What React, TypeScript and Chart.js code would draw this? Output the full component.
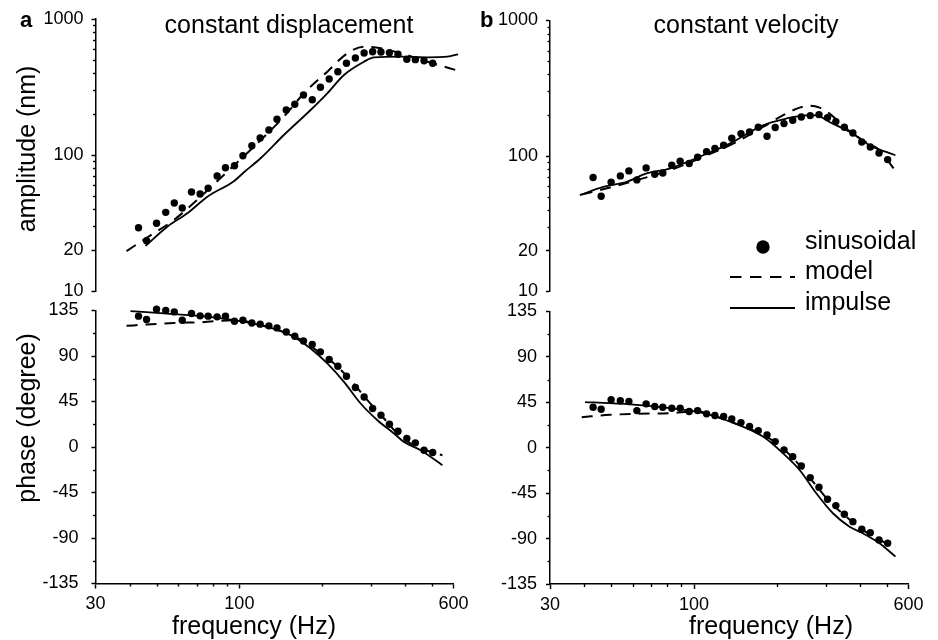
import React, { useEffect, useRef } from 'react';
import { Chart, registerables } from 'chart.js';

Chart.register(...registerables);

const FONT = '"Liberation Sans", Arial, Helvetica, sans-serif';
const W = 938;
const H = 640;

// ---------- data ----------
// sinusoidal stimulus frequencies (Hz)
const sinFreq = [43, 46, 50, 54, 58, 62, 67, 72, 77, 83, 89, 96, 103, 111, 119, 128, 137, 148, 159, 171, 184, 197, 212, 228, 245, 264, 284, 305, 327, 351, 377, 406, 436, 469, 504];

// (a) constant displacement – amplitude (nm)
const dispAmpSin = [29.4, 23.6, 31.7, 38.1, 44.6, 41.0, 53.7, 51.9, 57.2, 70.4, 81.0, 83.8, 99.2, 117.5, 133.8, 153.2, 183.6, 214.9, 236.5, 276.8, 255.7, 315.3, 362.7, 410.4, 473.0, 517.2, 563.1, 575.4, 572.5, 565.8, 550.7, 506.0, 503.0, 494.2, 473.0];
const dispAmpModelF = [38.9, 46.3, 57.8, 72.3, 90.4, 112.9, 145.1, 171.6, 208.7, 246.8, 283.6, 326.2, 385.8, 482.4, 623.2];
const dispAmpModelV = [19.8, 25.0, 33.5, 49.6, 75.8, 115.6, 191.8, 284.9, 410.4, 560.2, 626.0, 609.5, 560.2, 486.0, 417.5];
const dispAmpImpF = [45.6, 54.7, 64.7, 76.5, 95.5, 103.9, 119.4, 145.1, 181.5, 208.7, 239.9, 283.6, 308.4, 385.8, 482.4, 570.3, 623.2];
const dispAmpImpV = [21.6, 29.9, 37.5, 49.6, 64.5, 75.0, 95.0, 140.8, 214.9, 284.9, 388.2, 486.0, 523.4, 528.8, 523.4, 528.8, 550.7];

// (a) constant displacement – phase (degree)
const dispPhSin = [129.4, 126.1, 136.3, 135.0, 133.6, 125.4, 132.0, 129.7, 129.4, 128.7, 129.4, 124.4, 125.4, 122.7, 121.5, 119.8, 117.8, 113.8, 109.6, 104.9, 101.4, 94.1, 86.5, 79.9, 70.0, 58.8, 49.5, 38.1, 31.5, 22.5, 15.6, 8.4, 4.1, -3.2, -5.4];
const dispPhModelF = [38.9, 46.3, 57.8, 72.3, 95.5, 126.3, 167.0, 197.3, 220.7, 253.8, 291.8, 335.4, 385.8, 443.8, 509.8, 546.9];
const dispPhModelV = [119.8, 121.2, 122.7, 123.4, 125.4, 118.8, 106.3, 92.5, 82.6, 66.1, 46.3, 28.2, 10.0, 0.1, -5.8, -8.1];
const dispPhImpF = [40.2, 54.7, 72.3, 95.5, 126.3, 153.5, 181.5, 208.7, 239.9, 275.9, 317.4, 364.6, 396.5, 456.0, 546.9];
const dispPhImpV = [134.3, 132.0, 129.4, 125.4, 118.8, 110.6, 97.4, 82.6, 64.4, 43.0, 26.5, 13.4, 5.0, -3.2, -18.0];

// (b) constant velocity – amplitude (nm)
const velAmpSin = [69.4, 50.5, 64.1, 71.3, 77.6, 66.6, 81.7, 73.4, 75.0, 85.5, 91.5, 88.0, 97.9, 107.8, 113.5, 120.0, 135.1, 146.3, 150.4, 162.9, 139.8, 162.1, 173.4, 183.4, 194.0, 198.6, 202.0, 192.0, 179.4, 162.9, 147.9, 126.9, 116.6, 105.3, 94.1];
const velAmpModelF = [39.1, 49.5, 61.8, 81.6, 107.8, 142.4, 177.8, 210.1, 241.5, 262.5, 285.4, 310.1, 356.7, 409.4, 470.9, 537.9];
const velAmpModelV = [52.0, 58.6, 66.3, 78.5, 98.4, 126.9, 163.7, 199.6, 227.5, 235.3, 227.5, 205.5, 159.3, 130.6, 110.3, 77.6];
const velAmpImpF = [38.5, 46.8, 56.9, 67.2, 81.6, 107.8, 134.7, 177.8, 216.1, 255.4, 277.6, 310.1, 376.9, 432.9, 498.0, 537.9];
const velAmpImpV = [51.4, 59.2, 64.4, 74.3, 80.8, 101.3, 123.5, 168.5, 188.8, 199.6, 199.6, 178.2, 146.3, 120.0, 107.1, 101.3];

// (b) constant velocity – phase (degree)
const velPhSin = [40.2, 38.2, 47.5, 46.5, 45.8, 36.8, 43.5, 40.8, 40.2, 39.2, 39.2, 35.9, 36.8, 33.6, 31.9, 30.9, 28.6, 24.9, 21.0, 17.0, 12.8, 6.1, -2.1, -8.8, -18.0, -29.6, -39.1, -51.0, -57.3, -65.9, -73.2, -80.7, -84.1, -91.3, -94.6];
const velPhModelF = [39.1, 49.5, 61.8, 81.6, 102.0, 134.7, 168.3, 198.9, 234.9, 269.8, 310.1, 356.7, 409.4, 470.9, 537.9];
const velPhModelV = [30.3, 32.6, 33.6, 34.3, 35.9, 26.0, 16.0, 4.5, -13.7, -33.5, -53.4, -68.3, -81.4, -91.4, -98.0];
const velPhImpF = [40.2, 49.5, 61.8, 81.6, 107.8, 134.7, 177.8, 210.1, 241.5, 277.6, 319.0, 366.6, 409.4, 470.9, 537.9];
const velPhImpV = [45.2, 44.2, 42.5, 39.2, 34.3, 26.0, 11.1, -5.4, -22.0, -45.1, -64.9, -78.2, -84.7, -94.6, -107.9];

// ---------- ticks ----------
const ampMajor = [10, 20, 100, 1000];
const ampMinor = [30, 40, 50, 60, 70, 80, 90, 200, 300, 400, 500, 600, 700, 800, 900];
const phaseMajor = [-135, -90, -45, 0, 45, 90, 135];
const phaseMinor = [-112.5, -67.5, -22.5, 22.5, 67.5, 112.5];
const freqMajor = [30, 100, 600];
const freqMinor = [40, 50, 60, 70, 80, 90, 200, 300, 400, 500];

const legendLabels = ['sinusoidal', 'model', 'impulse'];

type Pt = { x: number; y: number };
const zip = (xs: number[], ys: number[]): Pt[] => xs.map((x, i) => ({ x, y: ys[i] }));

interface TextItem {
  text: string;
  x: number;
  y: number;
  font: string;
  align: CanvasTextAlign;
  baseline: CanvasTextBaseline;
  rotate?: number;
}

interface PanelSpec {
  kind: 'amp' | 'phase';
  area: { left: number; right: number; top: number; bottom: number };
  labelPad: number;
  sin: Pt[];
  model: Pt[];
  imp: Pt[];
  texts: TextItem[];
  legend?: boolean;
}

const TITLE_FONT = `25px ${FONT}`;
const LETTER_FONT = `bold 22px ${FONT}`;

const panels: PanelSpec[] = [
  {
    kind: 'amp',
    area: { left: 95.5, right: 453.5, top: 19, bottom: 291.5 },
    labelPad: 8,
    sin: zip(sinFreq, dispAmpSin),
    model: zip(dispAmpModelF, dispAmpModelV),
    imp: zip(dispAmpImpF, dispAmpImpV),
    texts: [
      { text: 'a', x: 20, y: 27, font: LETTER_FONT, align: 'left', baseline: 'alphabetic' },
      { text: 'constant displacement', x: 289, y: 33, font: TITLE_FONT, align: 'center', baseline: 'alphabetic' },
      { text: 'amplitude (nm)', x: 28, y: 149, font: TITLE_FONT, align: 'center', baseline: 'middle', rotate: -Math.PI / 2 },
    ],
  },
  {
    kind: 'phase',
    area: { left: 95.5, right: 453.5, top: 310.5, bottom: 583.5 },
    labelPad: 13,
    sin: zip(sinFreq, dispPhSin),
    model: zip(dispPhModelF, dispPhModelV),
    imp: zip(dispPhImpF, dispPhImpV),
    texts: [
      { text: 'phase (degree)', x: 28, y: 418, font: TITLE_FONT, align: 'center', baseline: 'middle', rotate: -Math.PI / 2 },
      { text: 'frequency (Hz)', x: 254, y: 634, font: TITLE_FONT, align: 'center', baseline: 'alphabetic' },
    ],
  },
  {
    kind: 'amp',
    area: { left: 550, right: 908.5, top: 20.5, bottom: 291.5 },
    labelPad: 8,
    sin: zip(sinFreq, velAmpSin),
    model: zip(velAmpModelF, velAmpModelV),
    imp: zip(velAmpImpF, velAmpImpV),
    texts: [
      { text: 'b', x: 480, y: 27, font: LETTER_FONT, align: 'left', baseline: 'alphabetic' },
      { text: 'constant velocity', x: 746, y: 33, font: TITLE_FONT, align: 'center', baseline: 'alphabetic' },
    ],
    legend: true,
  },
  {
    kind: 'phase',
    area: { left: 550, right: 908.5, top: 311.5, bottom: 584 },
    labelPad: 9,
    sin: zip(sinFreq, velPhSin),
    model: zip(velPhModelF, velPhModelV),
    imp: zip(velPhImpF, velPhImpV),
    texts: [
      { text: 'frequency (Hz)', x: 771, y: 634, font: TITLE_FONT, align: 'center', baseline: 'alphabetic' },
    ],
  },
];

function drawLegend(ctx: CanvasRenderingContext2D) {
  ctx.save();
  ctx.fillStyle = '#000';
  ctx.strokeStyle = '#000';
  ctx.font = TITLE_FONT;
  ctx.textAlign = 'left';
  ctx.textBaseline = 'alphabetic';
  // sinusoidal marker
  ctx.beginPath();
  ctx.arc(763, 247, 6.7, 0, Math.PI * 2);
  ctx.fill();
  ctx.fillText(legendLabels[0], 805, 249);
  // model (dashed)
  ctx.lineWidth = 2;
  ctx.setLineDash([11.5, 8.5]);
  ctx.beginPath();
  ctx.moveTo(730, 277);
  ctx.lineTo(795, 277);
  ctx.stroke();
  ctx.fillText(legendLabels[1], 805, 279);
  // impulse (solid)
  ctx.setLineDash([]);
  ctx.beginPath();
  ctx.moveTo(730, 308);
  ctx.lineTo(795, 308);
  ctx.stroke();
  ctx.fillText(legendLabels[2], 805, 310);
  ctx.restore();
}

function makeDecor(spec: PanelSpec) {
  return {
    id: 'decor',
    afterDraw(chart: any) {
      const ctx = chart.ctx as CanvasRenderingContext2D;
      const { left, bottom } = chart.chartArea;
      ctx.save();
      ctx.strokeStyle = '#000';
      ctx.lineWidth = 1.4;
      const ys = chart.scales.y;
      const yMinor = spec.kind === 'amp' ? ampMinor : phaseMinor;
      for (const v of yMinor) {
        const py = Math.round(ys.getPixelForValue(v)) + 0.5;
        ctx.beginPath();
        ctx.moveTo(left - 2.5, py);
        ctx.lineTo(left, py);
        ctx.stroke();
      }
      if (spec.kind === 'phase') {
        const xs = chart.scales.x;
        for (const v of freqMinor) {
          const px = Math.round(xs.getPixelForValue(v)) + 0.5;
          ctx.beginPath();
          ctx.moveTo(px, bottom);
          ctx.lineTo(px, bottom + 3);
          ctx.stroke();
        }
      }
      ctx.fillStyle = '#000';
      for (const t of spec.texts) {
        ctx.save();
        ctx.font = t.font;
        ctx.textAlign = t.align;
        ctx.textBaseline = t.baseline;
        ctx.translate(t.x, t.y);
        if (t.rotate) ctx.rotate(t.rotate);
        ctx.fillText(t.text, 0, 0);
        ctx.restore();
      }
      if (spec.legend) drawLegend(ctx);
      ctx.restore();
    },
  };
}

function buildConfig(spec: PanelSpec): any {
  const isAmp = spec.kind === 'amp';
  const { area } = spec;
  const axisW = 80;
  const axisH = 40;
  const tickFont = { family: FONT, size: 18 };
  return {
    type: 'scatter',
    data: {
      datasets: [
        {
          label: legendLabels[0],
          data: spec.sin,
          showLine: false,
          pointRadius: 3.7,
          pointBorderWidth: 0,
          pointBackgroundColor: '#000',
          pointBorderColor: '#000',
          clip: false,
        },
        {
          label: legendLabels[1],
          data: spec.model,
          showLine: true,
          borderColor: '#000',
          borderWidth: 2,
          borderDash: [11, 8],
          pointRadius: 0,
          cubicInterpolationMode: 'monotone',
          fill: false,
          clip: false,
        },
        {
          label: legendLabels[2],
          data: spec.imp,
          showLine: true,
          borderColor: '#000',
          borderWidth: 1.8,
          pointRadius: 0,
          cubicInterpolationMode: 'monotone',
          fill: false,
          clip: false,
        },
      ],
    },
    options: {
      responsive: false,
      animation: false,
      devicePixelRatio: 1,
      events: [],
      layout: {
        padding: {
          left: area.left - axisW,
          right: W - area.right,
          top: area.top,
          bottom: isAmp ? H - area.bottom : H - area.bottom - axisH,
        },
      },
      plugins: {
        legend: { display: false },
        tooltip: { enabled: false },
        title: { display: false },
      },
      scales: {
        x: {
          type: 'logarithmic',
          min: 30,
          max: 600,
          display: !isAmp,
          afterFit: (s: any) => {
            if (!isAmp) s.height = axisH;
          },
          afterBuildTicks: (s: any) => {
            s.ticks = freqMajor.map((v) => ({ value: v }));
          },
          ticks: {
            autoSkip: false,
            maxRotation: 0,
            minRotation: 0,
            padding: 5,
            color: '#000',
            font: tickFont,
            callback: (v: any) => String(v),
          },
          grid: {
            drawOnChartArea: false,
            drawTicks: true,
            tickLength: 5,
            tickWidth: 1.5,
            tickColor: '#000',
          },
          border: { display: true, color: '#000', width: 1.5 },
        },
        y: {
          type: isAmp ? 'logarithmic' : 'linear',
          min: isAmp ? 10 : -135,
          max: isAmp ? 1000 : 135,
          afterFit: (s: any) => {
            s.width = axisW;
          },
          afterBuildTicks: (s: any) => {
            s.ticks = (isAmp ? ampMajor : phaseMajor).map((v) => ({ value: v }));
          },
          ticks: {
            autoSkip: false,
            padding: spec.labelPad,
            color: '#000',
            font: tickFont,
            callback: (v: any) => String(v),
          },
          grid: {
            drawOnChartArea: false,
            drawTicks: true,
            tickLength: 4,
            tickWidth: 1.5,
            tickColor: '#000',
          },
          border: { display: true, color: '#000', width: 1.5 },
        },
      },
    },
    plugins: [makeDecor(spec)],
  };
}

function Panel({ spec }: { spec: PanelSpec }) {
  const ref = useRef<HTMLCanvasElement>(null);
  useEffect(() => {
    if (!ref.current) return;
    const chart = new Chart(ref.current, buildConfig(spec));
    return () => chart.destroy();
  }, [spec]);
  return (
    <canvas
      ref={ref}
      width={W}
      height={H}
      style={{ position: 'absolute', left: 0, top: 0, width: W, height: H }}
    />
  );
}

export default function App() {
  return (
    <div
      style={{
        position: 'absolute',
        left: 0,
        top: 0,
        width: W,
        height: H,
        background: '#fff',
        overflow: 'hidden',
      }}
    >
      {panels.map((p, i) => (
        <Panel key={i} spec={p} />
      ))}
    </div>
  );
}
